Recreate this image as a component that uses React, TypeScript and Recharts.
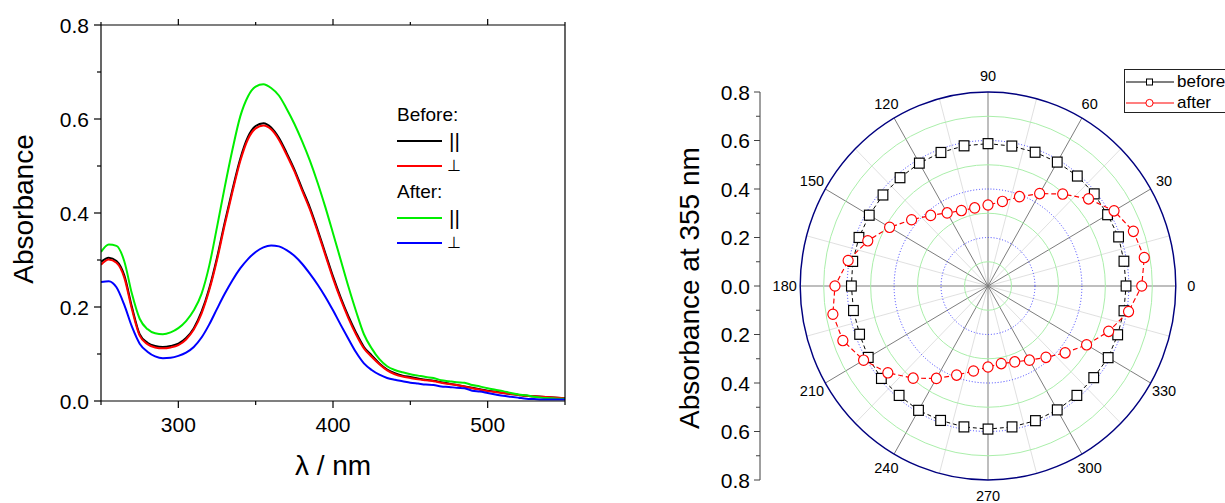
import React from 'react';
import {
  LineChart,
  Line,
  XAxis,
  YAxis,
  Legend,
  RadarChart,
  Radar,
  PolarGrid,
  PolarAngleAxis,
  PolarRadiusAxis,
} from 'recharts';

const FONT = '"Liberation Sans", Arial, Helvetica, sans-serif';

// ---- left panel: absorption spectra ----
const wavelengths = [
  250, 255, 260, 265, 270, 275, 280, 285, 290, 295, 300, 305, 310, 315, 320, 325, 330, 335, 340, 345,
  350, 355, 360, 365, 370, 375, 380, 385, 390, 395, 400, 405, 410, 415, 420, 425, 430, 435, 440, 445,
  450, 455, 460, 465, 470, 475, 480, 485, 490, 495, 500, 505, 510, 515, 520, 525, 530, 535, 540, 545, 550,
];
const beforePar = [
  0.296, 0.305, 0.298, 0.268, 0.2, 0.142, 0.124, 0.117, 0.115, 0.117, 0.122, 0.134, 0.155, 0.19, 0.24, 0.305,
  0.38, 0.45, 0.515, 0.562, 0.585, 0.591, 0.582, 0.56, 0.528, 0.493, 0.452, 0.412, 0.365, 0.315, 0.265, 0.22,
  0.18, 0.145, 0.115, 0.097, 0.08, 0.067, 0.059, 0.054, 0.051, 0.048, 0.045, 0.043, 0.04, 0.037, 0.034, 0.031,
  0.028, 0.025, 0.022, 0.02, 0.017, 0.015, 0.013, 0.011, 0.01, 0.009, 0.008, 0.007, 0.006,
];
const beforePerp = [
  0.29, 0.301, 0.294, 0.263, 0.195, 0.139, 0.121, 0.114, 0.112, 0.114, 0.119, 0.131, 0.152, 0.186, 0.236, 0.3,
  0.375, 0.445, 0.51, 0.557, 0.58, 0.586, 0.578, 0.556, 0.524, 0.489, 0.448, 0.408, 0.361, 0.311, 0.261, 0.216,
  0.176, 0.141, 0.112, 0.094, 0.078, 0.065, 0.057, 0.052, 0.049, 0.046, 0.044, 0.042, 0.039, 0.036, 0.034, 0.031,
  0.027, 0.024, 0.021, 0.019, 0.017, 0.015, 0.013, 0.011, 0.01, 0.009, 0.008, 0.007, 0.006,
];
const afterPar = [
  0.317, 0.333, 0.33, 0.298, 0.228, 0.175, 0.153, 0.144, 0.142, 0.146, 0.155, 0.17, 0.193, 0.228, 0.288, 0.37,
  0.455, 0.535, 0.605, 0.648, 0.669, 0.674, 0.666, 0.65, 0.622, 0.59, 0.553, 0.512, 0.465, 0.413, 0.357, 0.3,
  0.243, 0.19, 0.142, 0.112, 0.089, 0.074, 0.066, 0.061, 0.057, 0.054, 0.051, 0.049, 0.044, 0.042, 0.04, 0.039,
  0.034, 0.031, 0.027, 0.024, 0.021, 0.017, 0.014, 0.012, 0.009, 0.007, 0.006, 0.005, 0.005,
];
const afterPerp = [
  0.253, 0.255, 0.242, 0.205, 0.158, 0.122, 0.105, 0.095, 0.091, 0.092, 0.096, 0.103, 0.115, 0.135, 0.163, 0.196,
  0.228, 0.257, 0.282, 0.302, 0.317, 0.327, 0.331, 0.329, 0.321, 0.309, 0.292, 0.271, 0.248, 0.222, 0.193, 0.162,
  0.132, 0.103, 0.08, 0.066, 0.056, 0.049, 0.045, 0.042, 0.039, 0.037, 0.035, 0.034, 0.031, 0.03, 0.028, 0.027,
  0.022, 0.02, 0.017, 0.014, 0.011, 0.009, 0.007, 0.005, 0.004, 0.003, 0.003, 0.003, 0.003,
];
const xTicks = [250, 300, 350, 400, 450, 500, 550];
const xMajor = [300, 400, 500];
const yTicks = [0, 0.1, 0.2, 0.3, 0.4, 0.5, 0.6, 0.7, 0.8];

// ---- right panel: polar plot of absorbance at 355 nm ----
const angles = [
  0, 10, 20, 30, 40, 50, 60, 70, 80, 90, 100, 110, 120, 130, 140, 150, 160, 170,
  180, 190, 200, 210, 220, 230, 240, 250, 260, 270, 280, 290, 300, 310, 320, 330, 340, 350,
];
const beforeAbs = [
  0.588, 0.592, 0.588, 0.591, 0.592, 0.59, 0.587, 0.586, 0.587, 0.587, 0.586, 0.585, 0.583, 0.584, 0.584, 0.585, 0.585, 0.582,
  0.582, 0.582, 0.589, 0.593, 0.589, 0.592, 0.59, 0.59, 0.59, 0.59, 0.591, 0.59, 0.589, 0.588, 0.591, 0.588, 0.588, 0.588,
];
const afterAbs = [
  0.676, 0.659, 0.62, 0.559, 0.495, 0.44, 0.392, 0.354, 0.334, 0.327, 0.331, 0.348, 0.38, 0.425, 0.484, 0.545, 0.605, 0.652,
  0.671, 0.658, 0.612, 0.557, 0.496, 0.44, 0.391, 0.356, 0.334, 0.325, 0.333, 0.353, 0.384, 0.429, 0.485, 0.547, 0.608, 0.655,
];
const absTicks = [-0.8, -0.7, -0.6, -0.5, -0.4, -0.3, -0.2, -0.1, 0, 0.1, 0.2, 0.3, 0.4, 0.5, 0.6, 0.7, 0.8];
const majorSpokes = [0, 30, 60, 90, 120, 150, 180, 210, 240, 270, 300, 330];
const minorSpokes = [15, 45, 75, 105, 135, 165, 195, 225, 255, 285, 315, 345];
const greenRings = [0.1, 0.3, 0.5, 0.7];
const blueRings = [0.2, 0.4, 0.6];
const R_MAX = 0.8;

const spectraRows = wavelengths.map((wl, i) => ({
  wl,
  beforePar: beforePar[i],
  beforePerp: beforePerp[i],
  afterPar: afterPar[i],
  afterPerp: afterPerp[i],
}));

const polarRows = angles.map((angle, i) => ({ angle, before: beforeAbs[i], after: afterAbs[i] }));

const spectraSeries = [
  { key: 'beforePar', color: '#000000' },
  { key: 'beforePerp', color: '#ff0000' },
  { key: 'afterPar', color: '#00ee00' },
  { key: 'afterPerp', color: '#0000ff' },
];

const legendRows = [
  { heading: 'Before:' },
  { color: '#000000', symbol: '||' },
  { color: '#ff0000', symbol: '⊥' },
  { heading: 'After:' },
  { color: '#00ee00', symbol: '||' },
  { color: '#0000ff', symbol: '⊥' },
];

// polar geometry (inside the radar svg)
const PCX = 228;
const PCY = 246;
const OUTER = 194;
const ringPx = (v: number) => (v / R_MAX) * OUTER;

// ---- tick renderers ----
const LeftYTick = ({ x, y, payload }: any) => {
  const major = Math.round(payload.value * 10) % 2 === 0;
  return (
    <g>
      <line x1={x} y1={y} x2={x - (major ? 7 : 4)} y2={y} stroke="#000" strokeWidth={1.2} />
      {major && (
        <text x={x - 12} y={y} textAnchor="end" dominantBaseline="central" fontSize={21} fontFamily={FONT} fill="#000">
          {payload.value.toFixed(1)}
        </text>
      )}
    </g>
  );
};

const BottomXTick = ({ x, y, payload }: any) => {
  const major = xMajor.includes(payload.value);
  return (
    <g>
      <line x1={x} y1={y} x2={x} y2={y + (major ? 7 : 4)} stroke="#000" strokeWidth={1.2} />
      {major && (
        <text x={x} y={y + 23} textAnchor="middle" dominantBaseline="central" fontSize={21} fontFamily={FONT} fill="#000">
          {payload.value}
        </text>
      )}
    </g>
  );
};

const TopXTick = ({ x, y, payload }: any) => {
  const major = xMajor.includes(payload.value);
  return <line x1={x} y1={y} x2={x} y2={y - (major ? 6 : 3)} stroke="#000" strokeWidth={1.2} />;
};

const AbsTick = ({ x, y, payload }: any) => {
  const v = Math.abs(payload.value);
  const major = Math.round(v * 10) % 2 === 0;
  return (
    <g>
      <line x1={x} y1={y} x2={x - (major ? 6 : 4)} y2={y} stroke="#404040" strokeWidth={1} />
      {major && (
        <text x={x - 10} y={y} textAnchor="end" dominantBaseline="central" fontSize={21} fontFamily={FONT} fill="#000">
          {v.toFixed(1)}
        </text>
      )}
    </g>
  );
};

// angle labels every 30 degrees, placed just outside the rim
const AngleTick = ({ payload }: any) => {
  const deg = Number(payload.value);
  if (deg % 30 !== 0) return <g />;
  const rad = (deg * Math.PI) / 180;
  const r = OUTER + 16;
  return (
    <text
      x={PCX + r * Math.cos(rad)}
      y={PCY - r * Math.sin(rad)}
      textAnchor="middle"
      dominantBaseline="central"
      fontSize={15}
      fontFamily={FONT}
      fill="#000"
    >
      {deg}
    </text>
  );
};

const SquareDot = (props: any) => {
  const { cx, cy, key } = props;
  return <rect key={key} x={cx - 5} y={cy - 5} width={10} height={10} fill="#fff" stroke="#000" strokeWidth={1.2} />;
};

const CircleDot = (props: any) => {
  const { cx, cy, key } = props;
  return <circle key={key} cx={cx} cy={cy} r={5.2} fill="#fff" stroke="#ff0000" strokeWidth={1.2} />;
};

// ---- legends ----
const SpectraLegend = () => (
  <div style={{ fontFamily: FONT, color: '#000' }}>
    {legendRows.map((row, i) => (
      <div key={i} style={{ height: 25.7, display: 'flex', alignItems: 'center' }}>
        {row.heading ? (
          <span style={{ fontSize: 19 }}>{row.heading}</span>
        ) : (
          <>
            <span style={{ display: 'inline-block', width: 45, height: 2, background: row.color }} />
            <span
              style={{
                marginLeft: row.symbol === '||' ? 7 : 5,
                fontSize: row.symbol === '||' ? 21 : 16,
                lineHeight: 1,
              }}
            >
              {row.symbol}
            </span>
          </>
        )}
      </div>
    ))}
  </div>
);

const PolarLegend = () => (
  <div
    style={{
      fontFamily: FONT,
      border: '1px solid #222',
      width: 112,
      height: 44,
      boxSizing: 'border-box',
      paddingTop: 2,
      background: '#fff',
    }}
  >
    {[
      { label: 'before', color: '#000' },
      { label: 'after', color: '#ff0000' },
    ].map((e) => (
      <div key={e.label} style={{ height: 20.5, display: 'flex', alignItems: 'center' }}>
        <svg width={48} height={12} style={{ marginLeft: 1 }}>
          <line x1={0} y1={6} x2={48} y2={6} stroke={e.color} strokeWidth={1.2} />
          {e.label === 'before' ? (
            <rect x={20.5} y={3} width={6} height={6} fill="#fff" stroke="#000" strokeWidth={1} />
          ) : (
            <circle cx={23.5} cy={6} r={3.6} fill="#fff" stroke="#ff0000" strokeWidth={1} />
          )}
        </svg>
        <span style={{ fontSize: 17, marginLeft: 3, color: '#000' }}>{e.label}</span>
      </div>
    ))}
  </div>
);

const SpectraChart = () => (
  <div style={{ position: 'absolute', left: 0, top: 0 }}>
    <LineChart width={600} height={503} data={spectraRows} margin={{ top: 24, right: 34, bottom: 22, left: 0 }}>
      <XAxis
        xAxisId="b"
        dataKey="wl"
        type="number"
        domain={[250, 550]}
        ticks={xTicks}
        interval={0}
        allowDataOverflow
        height={80}
        tickSize={0}
        tickMargin={0}
        tickLine={false}
        tick={BottomXTick}
        axisLine={{ stroke: '#000', strokeWidth: 1.2 }}
        label={() => (
          <text x={333} y={475} textAnchor="middle" fontSize={28} fontFamily={FONT} fill="#000">
            λ / nm
          </text>
        )}
      />
      <XAxis
        xAxisId="t"
        orientation="top"
        dataKey="wl"
        type="number"
        domain={[250, 550]}
        ticks={xTicks}
        interval={0}
        allowDataOverflow
        height={1}
        tickSize={0}
        tickMargin={0}
        tickLine={false}
        tick={TopXTick}
        axisLine={{ stroke: '#000', strokeWidth: 1.2 }}
      />
      <YAxis
        yAxisId="l"
        type="number"
        domain={[0, 0.8]}
        ticks={yTicks}
        interval={0}
        allowDataOverflow
        width={101}
        tickSize={0}
        tickMargin={0}
        tickLine={false}
        tick={LeftYTick}
        axisLine={{ stroke: '#000', strokeWidth: 1.2 }}
        label={() => (
          <text
            x={23}
            y={209}
            transform="rotate(-90 23 209)"
            textAnchor="middle"
            dominantBaseline="central"
            fontSize={28}
            fontFamily={FONT}
            fill="#000"
          >
            Absorbance
          </text>
        )}
      />
      <YAxis
        yAxisId="r"
        orientation="right"
        type="number"
        domain={[0, 0.8]}
        width={1}
        tick={false}
        tickLine={false}
        axisLine={{ stroke: '#000', strokeWidth: 1.2 }}
      />
      {spectraSeries.map((s) => (
        <Line
          key={s.key}
          xAxisId="b"
          yAxisId="l"
          type="monotone"
          dataKey={s.key}
          stroke={s.color}
          strokeWidth={2}
          dot={false}
          activeDot={false}
          isAnimationActive={false}
        />
      ))}
      <Legend
        layout="vertical"
        align="center"
        verticalAlign="middle"
        wrapperStyle={{ left: 397, top: 102, width: 90 }}
        content={() => <SpectraLegend />}
      />
    </LineChart>
  </div>
);

// vertical Absorbance scale to the left of the polar plot
const PolarScaleChart = () => (
  <div style={{ position: 'absolute', left: 650, top: 0 }}>
    <LineChart width={575} height={503} data={polarRows} margin={{ top: 92, right: 455, bottom: 23, left: 0 }}>
      <XAxis dataKey="angle" hide />
      <YAxis
        type="number"
        domain={[-0.8, 0.8]}
        ticks={absTicks}
        interval={0}
        allowDataOverflow
        width={110}
        tickSize={0}
        tickMargin={0}
        tickLine={false}
        tick={AbsTick}
        axisLine={{ stroke: '#404040', strokeWidth: 1 }}
        label={() => (
          <text
            x={39}
            y={288}
            transform="rotate(-90 39 288)"
            textAnchor="middle"
            dominantBaseline="central"
            fontSize={28}
            fontFamily={FONT}
            fill="#000"
          >
            Absorbance at 355 nm
          </text>
        )}
      />
      <Legend
        layout="vertical"
        align="center"
        verticalAlign="middle"
        wrapperStyle={{ left: 474, top: 69, width: 112 }}
        content={() => <PolarLegend />}
      />
    </LineChart>
  </div>
);

const PolarChart = () => (
  <div style={{ position: 'absolute', left: 760, top: 40, transform: 'scaleX(0.968)', transformOrigin: `${PCX}px ${PCY}px` }}>
    <RadarChart
      width={460}
      height={480}
      data={polarRows}
      cx={PCX}
      cy={PCY}
      outerRadius={OUTER}
      startAngle={0}
      endAngle={360}
    >
      <PolarGrid gridType="circle" polarAngles={minorSpokes} polarRadius={[0]} stroke="#d8d8d8" strokeWidth={0.8} />
      <PolarGrid gridType="circle" polarAngles={majorSpokes} polarRadius={[0]} stroke="#7a7a7a" strokeWidth={1} />
      <PolarGrid
        gridType="circle"
        radialLines={false}
        polarAngles={majorSpokes}
        polarRadius={greenRings.map(ringPx)}
        stroke="#a8eea8"
        strokeWidth={1}
      />
      <PolarGrid
        gridType="circle"
        radialLines={false}
        polarAngles={majorSpokes}
        polarRadius={blueRings.map(ringPx)}
        stroke="#3a3aff"
        strokeWidth={1}
        strokeDasharray="1 2"
      />
      <PolarAngleAxis
        dataKey="angle"
        axisLineType="circle"
        axisLine={{ stroke: '#00007f', strokeWidth: 1.5 }}
        tickLine={false}
        tick={AngleTick}
      />
      <PolarRadiusAxis domain={[0, R_MAX]} tickCount={5} allowDecimals tick={false} axisLine={false} />
      <Radar
        dataKey="before"
        stroke="#000"
        strokeWidth={1}
        strokeDasharray="4 3"
        fill="none"
        fillOpacity={0}
        dot={SquareDot}
        isAnimationActive={false}
      />
      <Radar
        dataKey="after"
        stroke="#ff0000"
        strokeWidth={1.2}
        strokeDasharray="5 3"
        fill="none"
        fillOpacity={0}
        dot={CircleDot}
        isAnimationActive={false}
      />
    </RadarChart>
  </div>
);

export default function App() {
  return (
    <div
      style={{
        position: 'absolute',
        left: 0,
        top: 0,
        width: 1225,
        height: 503,
        overflow: 'hidden',
        background: '#fff',
        fontFamily: FONT,
      }}
    >
      <SpectraChart />
      <PolarScaleChart />
      <PolarChart />
    </div>
  );
}
